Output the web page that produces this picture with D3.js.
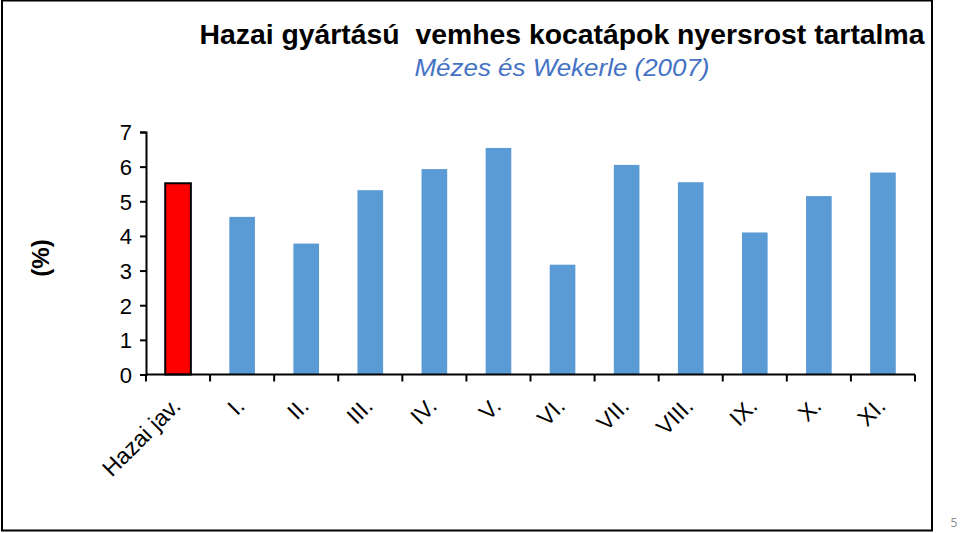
<!DOCTYPE html>
<html>
<head>
<meta charset="utf-8">
<script src="https://cdn.jsdelivr.net/npm/d3@7"></script>
<style>
body { margin: 0; background: #fff; }
text { font-family: "Liberation Sans", Arial, sans-serif; }
</style>
</head>
<body>
<div id="chart"></div>
<script>
width = 960
height = 533

// data
let categories = ["Hazai jav.", "I.", "II.", "III.", "IV.", "V.", "VI.", "VII.", "VIII.", "IX.", "X.", "XI."]
let values = [5.52, 4.55, 3.78, 5.32, 5.93, 6.54, 3.17, 6.05, 5.55, 4.1, 5.15, 5.83]
let yTicks = [0, 1, 2, 3, 4, 5, 6, 7]

let svg = d3.select("#chart")
.append("svg")
.attr("width", width)
.attr("height", height)

// slide frame
svg.append("rect")
.attr("x", 2)
.attr("y", 0.5)
.attr("width", 930)
.attr("height", 530)
.attr("fill", "none")
.attr("stroke", "#000")
.attr("stroke-width", 2)

svg.append("text")
.attr("x", 954)
.attr("y", 527)
.attr("text-anchor", "middle")
.attr("font-size", 12)
.attr("fill", "#8c8c8c")
.style("font-family", "'Open Sans', sans-serif")
.text("5")

svg.append("text")
.attr("x", 562)
.attr("y", 44)
.attr("text-anchor", "middle")
.attr("font-size", 28.5)
.attr("font-weight", "bold")
.attr("textLength", 725)
.attr("lengthAdjust", "spacingAndGlyphs")
.style("white-space", "pre")
.text("Hazai gyártású  vemhes kocatápok nyersrost tartalma")

svg.append("text")
.attr("x", 562)
.attr("y", 76)
.attr("text-anchor", "middle")
.attr("font-size", 24)
.attr("font-style", "italic")
.attr("fill", "#4472c4")
.attr("textLength", 295)
.attr("lengthAdjust", "spacingAndGlyphs")
.text("Mézes és Wekerle (2007)")

let x = d3.scaleBand()
.domain(categories)
.range([146, 915])
.paddingInner(0.6)
.paddingOuter(0.3)

let y = d3.scaleLinear()
.domain([0, 7])
.range([374.5, 132])

let g = svg.append("g")

g.selectAll("rect.bar")
.data(values)
.join("rect")
.attr("class", "bar")
.attr("x", (d, i) => x(categories[i]))
.attr("y", d => y(d))
.attr("width", x.bandwidth())
.attr("height", d => y(0) - y(d))
.attr("fill", (d, i) => i == 0 ? "#ff0000" : "#5b9bd5")
.attr("stroke", (d, i) => i == 0 ? "#000" : "none")
.attr("stroke-width", 2)

// y axis
let yAxis = g.append("g")
.attr("transform", "translate(146,0)")
.call(d3.axisLeft(y).tickValues(yTicks).tickSize(6).tickPadding(8).tickFormat(d3.format("d")))
yAxis.select(".domain").attr("stroke-width", 2)
yAxis.selectAll(".tick line").attr("stroke-width", 2)
yAxis.selectAll("text")
.attr("font-size", 22)
.attr("dy", "0.36em")
.style("font-family", "'Liberation Sans', Arial, sans-serif")
.attr("fill", "#000")

// x axis: ticks between categories
let xAxisY = y(0)
let xg = g.append("g")
xg.append("line")
.attr("x1", 146).attr("x2", 915)
.attr("y1", xAxisY).attr("y2", xAxisY)
.attr("stroke", "#000")
.attr("stroke-width", 2)

let step = x.step()
let boundaries = d3.range(categories.length + 1).map(i => i == categories.length ? 915 : x(categories[i]) - step * 0.3)
xg.selectAll("line.xt")
.data(boundaries)
.join("line")
.attr("class", "xt")
.attr("x1", d => d).attr("x2", d => d)
.attr("y1", xAxisY).attr("y2", xAxisY + 7)
.attr("stroke", "#000")
.attr("stroke-width", 2)

xg.selectAll("text.xl")
.data(categories)
.join("text")
.attr("class", "xl")
.attr("text-anchor", "end")
.attr("font-size", 23)
.attr("transform", d => "translate(" + (x(d) + x.bandwidth() / 2 + 4) + "," + (xAxisY + 33) + ") rotate(-45)")
.text(d => d)

// y label
svg.append("text")
.attr("transform", "translate(49,258) rotate(-90)")
.attr("text-anchor", "middle")
.attr("font-size", 24)
.attr("font-weight", "bold")
.text("(%)")
</script>
</body>
</html>
